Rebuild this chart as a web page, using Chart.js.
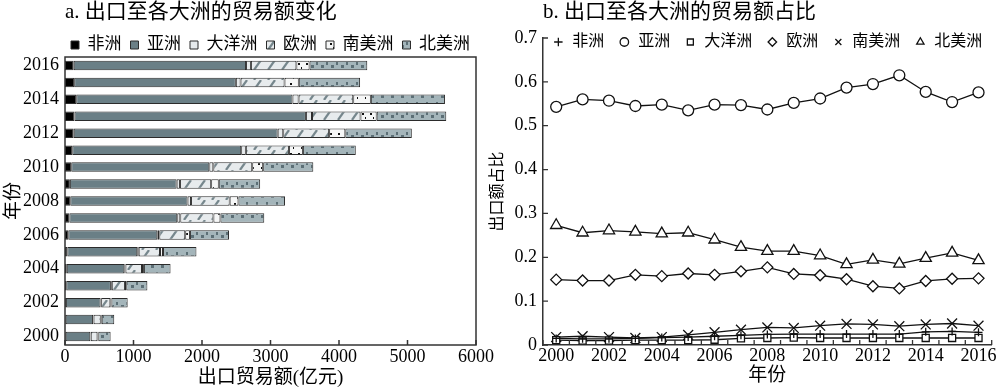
<!DOCTYPE html>
<html>
<head>
<meta charset="utf-8">
<script src="https://cdn.jsdelivr.net/npm/chart.js@4.4.0/dist/chart.umd.min.js"></script>
<style>
  html, body { margin: 0; padding: 0; background: #fff; }
  #wrap { position: relative; width: 1000px; height: 389px; overflow: hidden; }
  #barChart { position: absolute; left: 0; top: 0; }
  #lineChart { position: absolute; left: 488px; top: 0; }
</style>
</head>
<body>
<div id="wrap">
  <canvas id="barChart" width="500" height="389"></canvas>
  <canvas id="lineChart" width="512" height="389"></canvas>
</div>
<script>
const years = ['2000', '2001', '2002', '2003', '2004', '2005', '2006', '2007', '2008',
  '2009', '2010', '2011', '2012', '2013', '2014', '2015', '2016']

// a. export value by continent (亿元)
const africa = [10, 10, 13, 18, 26, 34, 48, 64, 77, 71, 91, 106, 127, 139, 164, 134, 127]
const asia = [359, 400, 506, 652, 840, 1021, 1300, 1575, 1712, 1559, 2016, 2466, 2978, 3378, 3157, 2360, 2516]
const oceania = [7, 7, 9, 13, 17, 21, 29, 44, 51, 48, 58, 68, 81, 89, 89, 69, 71]
const europe = [98, 105, 134, 192, 241, 311, 378, 484, 564, 456, 568, 629, 670, 708, 798, 642, 664]
const southAmerica = [12, 14, 16, 19, 28, 44, 69, 102, 128, 111, 160, 204, 236, 236, 257, 208, 192]
const northAmerica = [180, 183, 237, 309, 389, 488, 570, 640, 680, 604, 732, 772, 971, 1016, 1082, 895, 843]

// b. share of exports by continent
const africaShare = [0.015, 0.014, 0.014, 0.015, 0.017, 0.018, 0.020, 0.022, 0.024, 0.025, 0.025, 0.025, 0.025, 0.025, 0.030, 0.031, 0.029]
const asiaShare = [0.543, 0.560, 0.557, 0.545, 0.548, 0.535, 0.548, 0.547, 0.537, 0.552, 0.562, 0.587, 0.595, 0.615, 0.577, 0.554, 0.576]
const oceaniaShare = [0.011, 0.010, 0.010, 0.011, 0.011, 0.011, 0.012, 0.015, 0.016, 0.017, 0.016, 0.016, 0.016, 0.016, 0.016, 0.016, 0.016]
const europeShare = [0.149, 0.147, 0.147, 0.160, 0.157, 0.163, 0.160, 0.168, 0.177, 0.162, 0.159, 0.150, 0.134, 0.129, 0.146, 0.151, 0.152]
const southAmericaShare = [0.018, 0.020, 0.018, 0.016, 0.018, 0.023, 0.029, 0.035, 0.040, 0.039, 0.044, 0.048, 0.047, 0.043, 0.047, 0.049, 0.044]
const northAmericaShare = [0.273, 0.256, 0.261, 0.258, 0.254, 0.256, 0.240, 0.223, 0.214, 0.214, 0.204, 0.184, 0.194, 0.185, 0.198, 0.210, 0.193]

const amountMax = 6000
const amountStep = 1000
const shareMax = 0.7
const shareStep = 0.1

const family = '"Liberation Serif", "Noto Sans CJK SC", serif'
const axisColor = '#333'

// keep the legend out of the layout and centre it over the plot area
const legendPlace = {
  id: 'legendPlace',
  beforeLayout(chart) {
    const lg = chart.legend
    if (lg && !lg._placed) {
      const fit = lg.fit
      lg.fit = function () {
        fit.call(this)
        this._realHeight = this.height
        this.height = 0
      }
      lg._placed = true
    }
  },
  afterLayout(chart, args, opts) {
    const lg = chart.legend
    if (!lg) return
    const a = chart.chartArea
    const pad = lg.options.labels.padding
    const half = lg.lineWidths[0] / 2 + pad + 2
    const c = (a.left + a.right) / 2
    lg.left = c - half
    lg.right = c + half
    lg.width = lg.right - lg.left
    lg.top += opts.dy || 0
    lg.height = lg._realHeight
    lg.bottom = lg.top + lg.height
  }
}

// inward tick marks and optional frame
const axisMarks = {
  id: 'axisMarks',
  afterDraw(chart, args, o) {
    const { ctx, chartArea: a, scales: { x, y } } = chart
    ctx.save()
    ctx.strokeStyle = o.color
    ctx.lineWidth = o.width
    if (o.box) ctx.strokeRect(a.left, a.top, a.right - a.left, a.bottom - a.top)
    ctx.beginPath()
    let xs
    if (o.xBetween) {
      const n = x.getLabels().length
      xs = []
      for (let i = 0; i <= n; i++) xs.push(x.getPixelForValue(i - 0.5))
    } else {
      xs = x.ticks.map((t) => x.getPixelForValue(t.value))
    }
    xs.forEach((px) => {
      ctx.moveTo(px, a.bottom)
      ctx.lineTo(px, a.bottom - o.len)
    })
    if (o.yTicks) {
      y.ticks.forEach((t) => {
        const py = y.getPixelForValue(t.value)
        ctx.moveTo(a.left, py)
        ctx.lineTo(a.left + o.len, py)
      })
    }
    ctx.stroke()
    ctx.restore()
  }
}

const barCtx = document.getElementById('barChart').getContext('2d')

const makePattern = (w, h, bg, paint) => {
  const c = document.createElement('canvas')
  c.width = w
  c.height = h
  const g = c.getContext('2d')
  g.fillStyle = bg
  g.fillRect(0, 0, w, h)
  paint(g)
  return barCtx.createPattern(c, 'repeat')
}

const europeFill = makePattern(14, 10, '#e7ebed', (g) => {
  g.strokeStyle = '#76878d'
  g.lineWidth = 2.2
  g.beginPath()
  g.moveTo(2, 10)
  g.lineTo(9, 0)
  g.stroke()
})
const southFill = makePattern(8, 10, '#f6f7f7', (g) => {
  g.fillStyle = '#111'
  g.fillRect(2, 3, 2, 2)
  g.fillRect(5, 7, 1, 2)
})
const northFill = makePattern(10, 10, '#a4b5ba', (g) => {
  g.fillStyle = '#5c6f76'
  g.fillRect(1, 5, 3, 3)
  g.fillRect(6, 2, 2, 3)
})

const barSet = (label, data, fill) => ({
  label,
  data,
  backgroundColor: fill,
  borderColor: '#2b2b2b',
  borderWidth: 1,
  borderSkipped: false,
  categoryPercentage: 1,
  barPercentage: 0.56
})

new Chart(barCtx, {
  type: 'bar',
  data: {
    labels: years,
    datasets: [
      barSet('非洲', africa, '#000'),
      barSet('亚洲', asia, '#6a7f86'),
      barSet('大洋洲', oceania, '#e6eaec'),
      barSet('欧洲', europe, europeFill),
      barSet('南美洲', southAmerica, southFill),
      barSet('北美洲', northAmerica, northFill)
    ]
  },
  options: {
    indexAxis: 'y',
    responsive: false,
    animation: false,
    layout: { padding: { top: 0, right: 24, bottom: 0, left: 0 } },
    scales: {
      x: {
        stacked: true,
        min: 0,
        max: amountMax,
        ticks: {
          stepSize: amountStep,
          padding: 1,
          color: '#000',
          font: { family, size: 18 },
          callback: (v) => String(v)
        },
        grid: { display: false, drawTicks: false },
        border: { display: false },
        title: {
          display: true,
          text: '出口贸易额(亿元)',
          color: '#000',
          font: { family, size: 19 },
          padding: { top: 0, bottom: 0 }
        },
        afterFit: (s) => { s.height = 44 }
      },
      y: {
        stacked: true,
        reverse: true,
        ticks: {
          autoSkip: false,
          padding: 6,
          color: '#000',
          font: { family, size: 18 },
          callback: (v, i) => (i % 2 === 0 ? years[i] : '')
        },
        grid: { display: false, drawTicks: false },
        border: { display: false },
        title: {
          display: true,
          text: '年份',
          color: '#000',
          font: { family, size: 19 },
          padding: { top: 3, bottom: 0 }
        },
        afterFit: (s) => { s.width = 65 }
      }
    },
    plugins: {
      title: {
        display: true,
        text: 'a. 出口至各大洲的贸易额变化',
        align: 'start',
        fullSize: false,
        color: '#000',
        font: { family, size: 21, weight: 'normal' },
        padding: { top: 0, bottom: 31.8 }
      },
      legend: {
        position: 'top',
        labels: {
          boxWidth: 8,
          boxHeight: 8,
          padding: 9,
          color: '#000',
          font: { family, size: 17 }
        }
      },
      legendPlace: { dy: -29.5 },
      axisMarks: { color: axisColor, width: 1.5, len: 5, box: true },
      tooltip: { enabled: false }
    }
  },
  plugins: [legendPlace, axisMarks]
})

const lineSet = (label, data, pointStyle, pointRadius) => ({
  label,
  data,
  pointStyle,
  pointRadius,
  borderColor: '#111',
  backgroundColor: '#fff',
  borderWidth: 1.3,
  pointBorderWidth: 1.3,
  pointBorderColor: '#111',
  pointBackgroundColor: '#fff',
  tension: 0
})

new Chart(document.getElementById('lineChart'), {
  type: 'line',
  data: {
    labels: years,
    datasets: [
      lineSet('非洲', africaShare, 'cross', 4),
      lineSet('亚洲', asiaShare, 'circle', 5.5),
      lineSet('大洋洲', oceaniaShare, 'rect', 5),
      lineSet('欧洲', europeShare, 'rectRot', 5.5),
      lineSet('南美洲', southAmericaShare, 'crossRot', 7),
      lineSet('北美洲', northAmericaShare, 'triangle', 6.5)
    ]
  },
  options: {
    responsive: false,
    animation: false,
    layout: { padding: { top: 0, right: 4, bottom: 0, left: 0 } },
    scales: {
      x: {
        type: 'category',
        offset: true,
        ticks: {
          autoSkip: false,
          maxRotation: 0,
          padding: 0,
          color: '#000',
          font: { family, size: 18 },
          callback: (v, i) => (i % 2 === 0 ? years[i] : '')
        },
        grid: { display: false, drawTicks: false },
        border: { display: true, color: axisColor, width: 1.5 },
        title: {
          display: true,
          text: '年份',
          color: '#000',
          font: { family, size: 19 },
          padding: { top: 0, bottom: 1.5 }
        },
        afterFit: (s) => { s.height = 44 }
      },
      y: {
        min: 0,
        max: shareMax,
        ticks: { stepSize: shareStep, padding: 6, color: '#000', font: { family, size: 18 } },
        grid: { display: false, drawTicks: false },
        border: { display: true, color: axisColor, width: 1.5 },
        title: {
          display: true,
          text: '出口额占比',
          color: '#000',
          font: { family, size: 16 },
          padding: { top: 0, bottom: 0 }
        },
        afterFit: (s) => { s.width = 55 }
      }
    },
    plugins: {
      title: {
        display: true,
        text: 'b. 出口至各大洲的贸易额占比',
        align: 'start',
        fullSize: false,
        color: '#000',
        font: { family, size: 21, weight: 'normal' },
        padding: { top: 0, bottom: 12.8 }
      },
      legend: {
        position: 'top',
        labels: {
          usePointStyle: true,
          boxWidth: 12,
          boxHeight: 6,
          padding: 14,
          color: '#000',
          font: { family, size: 16 }
        }
      },
      legendPlace: { dy: -18 },
      axisMarks: { color: axisColor, width: 1.3, len: 5, xBetween: true, yTicks: true },
      tooltip: { enabled: false }
    }
  },
  plugins: [legendPlace, axisMarks]
})
</script>
</body>
</html>
